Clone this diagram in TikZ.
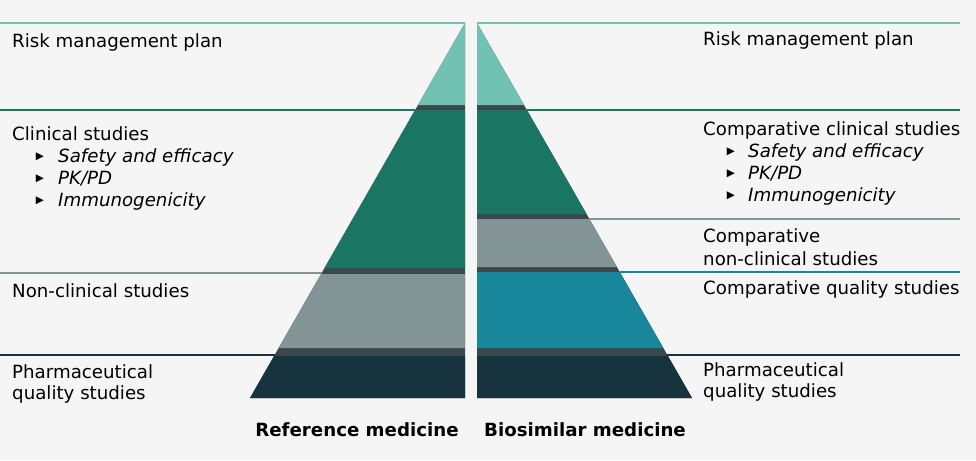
\documentclass[tikz,border=0pt]{standalone}
\usepackage{fontspec}
\setmainfont{DejaVu Sans}
\begin{document}
\begin{tikzpicture}[x=1pt,y=-1pt,
  txt/.style={anchor=west,inner sep=0pt,font=\fontsize{18.2}{20}\selectfont},
  itx/.style={txt,font=\fontsize{18.2}{20}\selectfont\itshape},
  bul/.style={anchor=center,inner sep=0pt,font=\fontsize{10.5}{10}\selectfont},
  ttl/.style={anchor=center,inner sep=0pt,font=\fontsize{18.2}{20}\selectfont\bfseries},
  hl/.style={line width=2.2pt}]
\definecolor{bg}{HTML}{F5F5F5}
\definecolor{lt}{HTML}{72C2B4}
\definecolor{gr}{HTML}{1A7562}
\definecolor{gy}{HTML}{829496}
\definecolor{nv}{HTML}{17343E}
\definecolor{tb}{HTML}{18879B}
\definecolor{sh}{HTML}{3A474D}
\fill[bg] (0,0) rectangle (976,460);
\useasboundingbox (0,0) rectangle (976,460);
\fill[sh] (465,23) -- (465,398) -- (250,398) -- cycle;
\fill[sh] (477,23) -- (477,398) -- (692,398) -- cycle;
\newcommand{\lx}[1]{465-0.5733*(#1-23)}
\newcommand{\rx}[1]{477+0.5733*(#1-23)}
\fill[lt] (465,23) -- (465,105) -- ({\lx{105}},105) -- cycle;
\fill[gr] (465,110) -- (465,268) -- ({\lx{268}},268) -- ({\lx{110}},110) -- cycle;
\fill[gy] (465,274) -- (465,348) -- ({\lx{348}},348) -- ({\lx{274}},274) -- cycle;
\fill[nv] (465,356) -- (465,398) -- ({\lx{398}},398) -- ({\lx{356}},356) -- cycle;
\fill[lt] (477,23) -- (477,105) -- ({\rx{105}},105) -- cycle;
\fill[gr] (477,110) -- (477,214) -- ({\rx{214}},214) -- ({\rx{110}},110) -- cycle;
\fill[gy] (477,219) -- (477,267) -- ({\rx{267}},267) -- ({\rx{219}},219) -- cycle;
\fill[tb] (477,272) -- (477,348) -- ({\rx{348}},348) -- ({\rx{272}},272) -- cycle;
\fill[nv] (477,356) -- (477,398) -- ({\rx{398}},398) -- ({\rx{356}},356) -- cycle;
\coordinate (l1) at (465,23); \coordinate (l2) at ({\lx{110}},110);
\coordinate (l3) at ({\lx{273}},273); \coordinate (l4) at ({\lx{355}},355);
\coordinate (r1) at (477,23); \coordinate (r2) at ({\rx{110}},110);
\coordinate (r3) at ({\rx{219}},219); \coordinate (r4) at ({\rx{272}},272);
\coordinate (r5) at ({\rx{355}},355);
\draw[hl,lt] (0,23) -- (l1);
\draw[hl,gr] (0,110) -- (l2);
\draw[hl,gy] (0,273) -- (l3);
\draw[hl,nv] (0,355) -- (l4);
\draw[hl,lt] (r1) -- (960,23);
\draw[hl,gr] (r2) -- (960,110);
\draw[hl,gy] (r3) -- (960,219);
\draw[hl,tb] (r4) -- (960,272);
\draw[hl,nv] (r5) -- (960,355);
\node[txt] (a1) at (12,42) {Risk management plan};
\node[txt] (a2) at (12,134) {Clinical studies};
\node[bul] (b1) at (40,157) {▶}; \node[itx] (c1) at (58,157) {Safety and efficacy};
\node[bul] (b2) at (40,179) {▶}; \node[itx] (c2) at (58,179) {PK/PD};
\node[bul] (b3) at (40,201) {▶}; \node[itx] (c3) at (58,201) {Immunogenicity};
\node[txt] (a3) at (12,291) {Non-clinical studies};
\node[txt] (a4) at (12,372) {Pharmaceutical};
\node[txt] (a5) at (12,394) {quality studies};
\node[txt] (d1) at (703,40) {Risk management plan};
\node[txt] (d2) at (703,130) {Comparative clinical studies};
\node[bul] (e1) at (731,152) {▶}; \node[itx] (f1) at (748,152) {Safety and efficacy};
\node[bul] (e2) at (731,174) {▶}; \node[itx] (f2) at (748,174) {PK/PD};
\node[bul] (e3) at (731,196) {▶}; \node[itx] (f3) at (748,196) {Immunogenicity};
\node[txt] (d3) at (703,237) {Comparative};
\node[txt] (d4) at (703,259) {non-clinical studies};
\node[txt] (d5) at (703,289) {Comparative quality studies};
\node[txt] (d6) at (703,370) {Pharmaceutical};
\node[txt] (d7) at (703,392) {quality studies};
\node[ttl] (t1) at (357,430) {Reference medicine};
\node[ttl] (t2) at (585,430) {Biosimilar medicine};
\end{tikzpicture}
\end{document}
